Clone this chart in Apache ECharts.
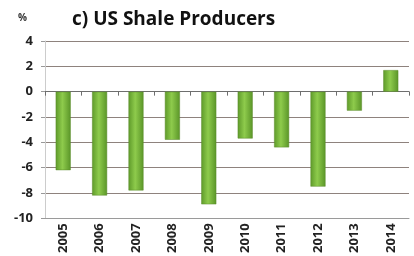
<!DOCTYPE html>
<html><head><meta charset="utf-8">
<script src="https://cdn.jsdelivr.net/npm/echarts@6/dist/echarts.min.js"></script>
<style>html,body{margin:0;padding:0;background:#fff}#c{width:414px;height:256px}</style>
</head><body><div id="c"></div>
<script>
const categories = ['2005','2006','2007','2008','2009','2010','2011','2012','2013','2014'];
const values = [-6.2, -8.2, -7.8, -3.8, -8.9, -3.7, -4.4, -7.5, -1.5, 1.7];
const yTicks = [-10, -8, -6, -4, -2, 0, 2, 4];
const titleText = 'c) US Shale Producers';
const unitText = '%';

const chart = echarts.init(document.getElementById('c'));
chart.setOption({
  animation: false,
  backgroundColor: '#fff',
  grid: { left: 45, right: 5, top: 41, bottom: 35 },
  title: [
    { text: titleText, left: 67, top: 5, textStyle: { fontFamily: 'Open Sans', fontWeight: 'bold', fontSize: 19, color: '#111' } },
    { text: unitText, left: 13, top: 8, textStyle: { fontFamily: 'Open Sans', fontWeight: 'bold', fontSize: 10, color: '#333' } }
  ],
  xAxis: [{
    type: 'category', data: categories,
    position: 'bottom',
    axisLine: { show: true, onZero: false, lineStyle: { color: '#9a9a9a', width: 1 } },
    axisTick: { show: false },
    axisLabel: { rotate: 90, fontFamily: 'Open Sans', fontWeight: 'bold', fontSize: 13, color: '#222', margin: 5 }
  }, {
    type: 'category', data: categories,
    position: 'top',
    axisLine: { show: true, onZero: true, lineStyle: { color: '#6e6e6e', width: 1 } },
    axisTick: { show: true, inside: true, length: 4, lineStyle: { color: '#6e6e6e' } },
    axisLabel: { show: false }
  }],
  yAxis: {
    type: 'value', min: yTicks[0], max: yTicks[yTicks.length - 1], interval: 2,
    axisLine: { show: true, lineStyle: { color: '#ccc' } },
    axisTick: { show: true, length: 4, lineStyle: { color: '#999' } },
    axisLabel: { fontFamily: 'Open Sans', fontWeight: 'bold', fontSize: 13, color: '#222', margin: 12 },
    splitLine: { show: true, lineStyle: { color: '#8e827d', width: 1 } }
  },
  series: [{
    type: 'bar', data: values, barWidth: 15, xAxisIndex: 0,
    itemStyle: {
      color: new echarts.graphic.LinearGradient(0, 0, 1, 0, [
        { offset: 0, color: '#5e9a2a' },
        { offset: 0.45, color: '#8ecb4c' },
        { offset: 1, color: '#5a9528' }
      ]),
      borderColor: '#5a8a2a', borderWidth: 0.5
    }
  }]
});
</script></body></html>
